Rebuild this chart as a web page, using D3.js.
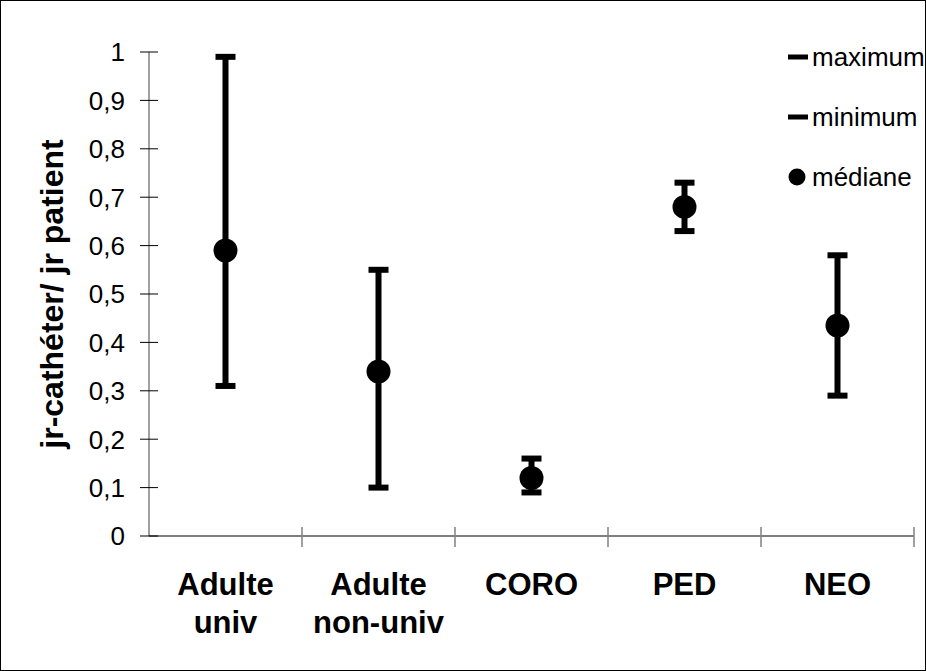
<!DOCTYPE html>
<html>
<head>
<meta charset="utf-8">
<script src="https://cdn.jsdelivr.net/npm/d3@7"></script>
<style>
  body { margin: 0; background: #fff; }
  svg { display: block; font-family: "Liberation Sans", Arial, sans-serif; }
</style>
</head>
<body>
<div id="chart"></div>
<script>
// data
var categories = [["Adulte", "univ"], ["Adulte", "non-univ"], ["CORO"], ["PED"], ["NEO"]];
var maxValues = [0.99, 0.55, 0.16, 0.73, 0.58];
var minValues = [0.31, 0.10, 0.09, 0.63, 0.29];
var medianValues = [0.59, 0.34, 0.12, 0.68, 0.435];
var yTicks = [0, 0.1, 0.2, 0.3, 0.4, 0.5, 0.6, 0.7, 0.8, 0.9, 1];
var legendLabels = ["maximum", "minimum", "médiane"];

var W = 926, H = 671;
var padding = { left: 149, right: 12, top: 52, bottom: 135 };

var svg = d3.select("#chart").append("svg")
    .attr("width", W)
    .attr("height", H);

svg.append("rect")
    .attr("x", 0.5).attr("y", 0.5)
    .attr("width", W - 1).attr("height", H - 1)
    .attr("fill", "#fff").attr("stroke", "#000");

var x = d3.scaleBand()
    .domain(d3.range(categories.length))
    .range([padding.left, 914]);

var y = d3.scaleLinear()
    .domain([0, 1])
    .range([536, padding.top]);

// y axis
var yAxis = svg.append("g").attr("transform", "translate(" + padding.left + ",0)");
yAxis.append("line")
    .attr("y1", y(0)).attr("y2", y(1))
    .attr("stroke", "#808080").attr("stroke-width", 1.5);
yAxis.selectAll(".tick").data(yTicks).enter().append("line")
    .attr("x1", -9).attr("x2", 9)
    .attr("y1", function(d) { return y(d); })
    .attr("y2", function(d) { return y(d); })
    .attr("stroke", "#000").attr("stroke-width", 1);
yAxis.selectAll("text").data(yTicks).enter().append("text")
    .attr("x", -24)
    .attr("y", function(d) { return y(d); })
    .attr("dy", "0.36em")
    .attr("text-anchor", "end")
    .style("font-size", "26px")
    .text(function(d) { return String(d).replace(".", ","); });

// x axis
var xAxis = svg.append("g");
xAxis.append("line")
    .attr("x1", padding.left).attr("x2", 914)
    .attr("y1", y(0)).attr("y2", y(0))
    .attr("stroke", "#000").attr("stroke-width", 1.2);
var xTicks = d3.range(categories.length + 1).map(function(i) {
    return i < categories.length ? x(i) : x(i - 1) + x.bandwidth();
});
xAxis.selectAll(".tick").data(xTicks.slice(1)).enter().append("line")
    .attr("x1", function(d) { return d; })
    .attr("x2", function(d) { return d; })
    .attr("y1", y(0) - 9).attr("y2", y(0) + 11)
    .attr("stroke", "#808080").attr("stroke-width", 1.5);

var labels = xAxis.selectAll(".cat").data(categories).enter().append("text")
    .attr("class", "cat")
    .attr("text-anchor", "middle")
    .style("font-size", "31px")
    .attr("font-weight", "bold")
    .attr("y", 595);
labels.selectAll("tspan").data(function(d, i) { return d.map(function(t) { return [t, i]; }); })
    .enter().append("tspan")
    .attr("x", function(d) { return x(d[1]) + x.bandwidth() / 2; })
    .attr("dy", function(d, j) { return j === 0 ? 0 : 38; })
    .text(function(d) { return d[0]; });

// y label
svg.append("text")
    .attr("transform", "translate(63," + ((y(0) + y(1)) / 2) + ") rotate(-90)")
    .attr("text-anchor", "middle")
    .style("font-size", "32px")
    .attr("font-weight", "bold")
    .text("jr-cathéter/ jr patient");

// error bars
var marks = svg.append("g");
var cx = function(i) { return x(i) + x.bandwidth() / 2; };
marks.selectAll(".bar").data(categories).enter().append("line")
    .attr("x1", function(d, i) { return cx(i); })
    .attr("x2", function(d, i) { return cx(i); })
    .attr("y1", function(d, i) { return y(maxValues[i]); })
    .attr("y2", function(d, i) { return y(minValues[i]); })
    .attr("stroke", "#000").attr("stroke-width", 6);
marks.selectAll(".capMax").data(maxValues).enter().append("line")
    .attr("x1", function(d, i) { return cx(i) - 10; })
    .attr("x2", function(d, i) { return cx(i) + 10; })
    .attr("y1", function(d) { return y(d); })
    .attr("y2", function(d) { return y(d); })
    .attr("stroke", "#000").attr("stroke-width", 6);
marks.selectAll(".capMin").data(minValues).enter().append("line")
    .attr("x1", function(d, i) { return cx(i) - 10; })
    .attr("x2", function(d, i) { return cx(i) + 10; })
    .attr("y1", function(d) { return y(d); })
    .attr("y2", function(d) { return y(d); })
    .attr("stroke", "#000").attr("stroke-width", 6);
marks.selectAll("circle").data(medianValues).enter().append("circle")
    .attr("cx", function(d, i) { return cx(i); })
    .attr("cy", function(d) { return y(d); })
    .attr("r", 12)
    .attr("fill", "#000");

// legend
var legend = svg.append("g");
var ly = [57, 117, 177];
legendLabels.forEach(function(t, i) {
    if (i < 2) {
        legend.append("line")
            .attr("x1", 788).attr("x2", 808)
            .attr("y1", ly[i]).attr("y2", ly[i])
            .attr("stroke", "#000").attr("stroke-width", 5);
    } else {
        legend.append("circle")
            .attr("cx", 797).attr("cy", ly[i]).attr("r", 8.5)
            .attr("fill", "#000");
    }
    legend.append("text")
        .attr("x", 812).attr("y", ly[i])
        .attr("dy", "0.36em")
        .style("font-size", "26px")
        .text(t);
});
</script>
</body>
</html>
